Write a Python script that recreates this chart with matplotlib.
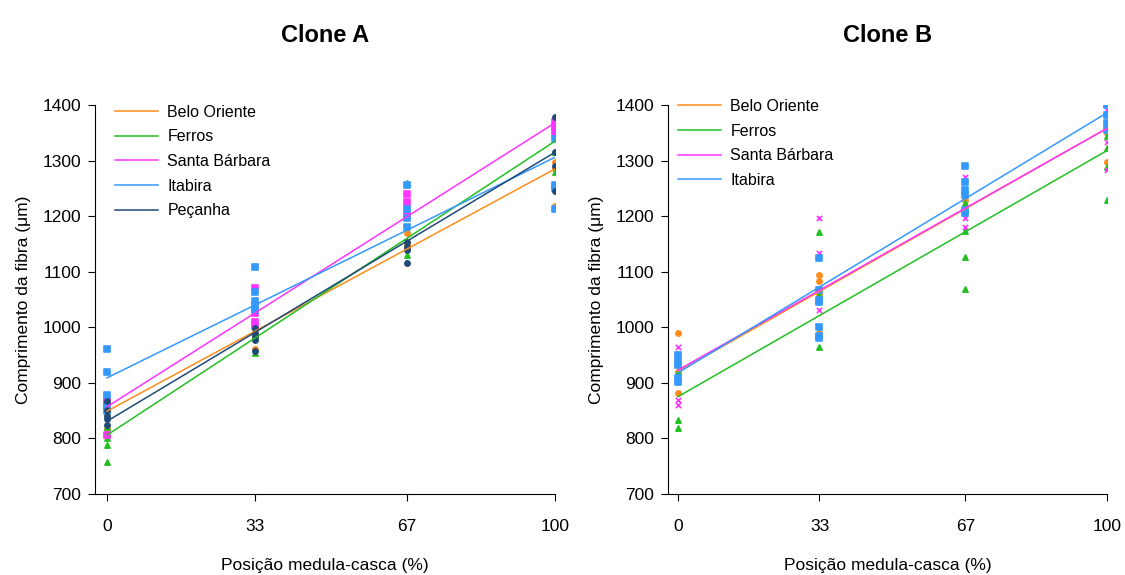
import matplotlib
matplotlib.use('Agg')
import matplotlib.pyplot as plt

plt.rcParams['font.family'] = ['Liberation Sans', 'DejaVu Sans']

positions = [0, 33, 67, 100]
sites = ['Belo Oriente', 'Ferros', 'Santa Bárbara', 'Itabira', 'Peçanha']
colors = ['#FF8C1A', '#22C022', '#FF33FF', '#3399FF', '#1F4A78']

# Clone A: measured values at each position (0, 33, 67, 100)
a_belo = [[849, 817, 805], [961, 985, 990], [1170, 1150, 1140], [1297, 1218, 1285]]
a_ferros = [[788, 758, 820, 800], [954, 985, 1000], [1260, 1130, 1150], [1364, 1344, 1280, 1316]]
a_santa = [[860, 806, 870], [1071, 1010, 1002, 1025], [1240, 1225, 1200], [1369, 1352, 1360]]
a_itabira = [[961, 919, 878, 857, 850], [1108, 1063, 1047, 1040, 1031], [1256, 1213, 1197, 1181],
             [1339, 1256, 1250, 1213]]
a_pecanha = [[867, 851, 835, 824, 840], [998, 990, 977, 957, 985], [1153, 1145, 1139, 1116],
             [1378, 1316, 1290, 1245]]
# regression line values at 0 and 100
a_fit_start = [849, 806, 857, 909, 831]
a_fit_end = [1285, 1335, 1368, 1306, 1315]

# Clone B
b_belo = [[990, 882, 920], [1094, 1083, 990, 1060], [1229, 1210, 1240], [1350, 1297, 1360]]
b_ferros = [[920, 833, 819], [1172, 1058, 965], [1223, 1173, 1126, 1069], [1344, 1323, 1288, 1229]]
b_santa = [[965, 870, 860], [1197, 1134, 1031, 986], [1270, 1197, 1181], [1391, 1334, 1283]]
b_itabira = [[950, 940, 932, 909, 902], [1125, 1067, 1049, 1045, 1000, 984, 980],
             [1290, 1261, 1247, 1238, 1211, 1205], [1400, 1382, 1368, 1355]]
b_fit_start = [920, 875, 923, 918]
b_fit_end = [1358, 1318, 1358, 1386]

a_markers = ['o', '^', 's', 's', 'o']
b_markers = ['o', '^', 'x', 's']

fig = plt.figure(figsize=(11.25, 5.75), dpi=100)
ax1 = fig.add_axes([0.0844, 0.1409, 0.409, 0.6765])
ax2 = fig.add_axes([0.5938, 0.1409, 0.3902, 0.6765])


def draw(ax, groups, markers, fit_start, fit_end, title, xmin, leg_x, leg_y):
    for i, vals in enumerate(groups):
        for p, ys in zip(positions, vals):
            ax.scatter([p] * len(ys), ys, color=colors[i], marker=markers[i], s=14,
                       linewidths=1.2, zorder=2)
    for i in range(len(groups)):
        ax.plot([positions[0], positions[-1]], [fit_start[i], fit_end[i]],
                color=colors[i], lw=1.1, label=sites[i], zorder=3)
    ax.set_xlim(xmin, 100)
    ax.set_ylim(700, 1400)
    ax.set_xticks(positions)
    ax.set_yticks(range(700, 1401, 100))
    ax.tick_params(axis='x', length=5, pad=13, labelsize=12.5)
    ax.tick_params(axis='y', length=5, pad=5, labelsize=12.5)
    for s in ['top', 'right']:
        ax.spines[s].set_visible(False)
    ax.set_xlabel('Posição medula-casca (%)', fontsize=12.5, labelpad=17)
    ax.set_ylabel('Comprimento da fibra (μm)', fontsize=12.5, labelpad=8)
    ax.set_title(title, fontsize=17, fontweight='bold', pad=45)
    ax.legend(loc='upper left', bbox_to_anchor=(leg_x, leg_y), frameon=False, fontsize=11.5,
              handlelength=2.7, handletextpad=0.6, labelspacing=0.6, borderaxespad=0.2)


draw(ax1, [a_belo, a_ferros, a_santa, a_itabira, a_pecanha], a_markers,
     a_fit_start, a_fit_end, 'Clone A', -2.7, 0.022, 1.025)
draw(ax2, [b_belo, b_ferros, b_santa, b_itabira], b_markers,
     b_fit_start, b_fit_end, 'Clone B', -2.3, 0.0, 1.04)

plt.savefig('out.png', dpi=100)
